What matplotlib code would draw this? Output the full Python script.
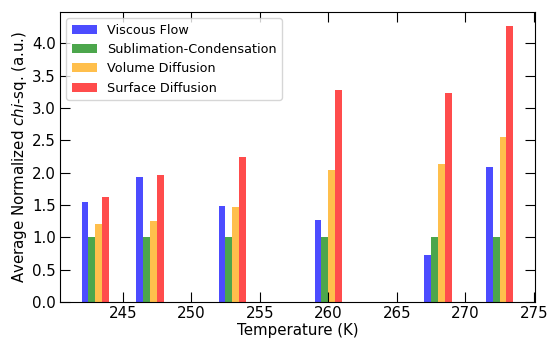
import numpy as np
import matplotlib.pyplot as plt

# temperatures (K) for each group of bars
temps = [243, 247, 253, 260, 268, 272.5]

# average normalized chi-sq. per model
viscous = [1.55, 1.93, 1.48, 1.27, 0.73, 2.09]
sublim = [1.0, 1.0, 1.0, 1.0, 1.0, 1.0]
volume = [1.21, 1.25, 1.47, 2.04, 2.13, 2.55]
surface = [1.62, 1.96, 2.24, 3.28, 3.23, 4.27]

labels = ['Viscous Flow', 'Sublimation-Condensation', 'Volume Diffusion', 'Surface Diffusion']
colors = ['blue', 'green', 'orange', 'red']

barWidth = 0.5
t = np.array(temps)

fig, ax = plt.subplots(figsize=(5.48, 3.39), dpi=100)
fig.subplots_adjust(left=0.1095, right=0.976, bottom=0.109, top=0.9646)

for i, (vals, lab, c) in enumerate(zip([viscous, sublim, volume, surface], labels, colors)):
    ax.bar(t + (i - 1.5) * barWidth, vals, width=barWidth, color=c, alpha=0.7, label=lab)

ax.set_xlabel('Temperature (K)', fontsize=10.8, labelpad=1.5)
ax.set_ylabel(r'Average Normalized $\it{chi}$-sq. (a.u.)', fontsize=10.8, labelpad=2)
ax.tick_params(direction='in', top=True, right=True, length=7, labelsize=10.8, pad=3)
ax.legend(loc='upper left', fontsize=9.2)

plt.savefig('out.png', dpi=100)
